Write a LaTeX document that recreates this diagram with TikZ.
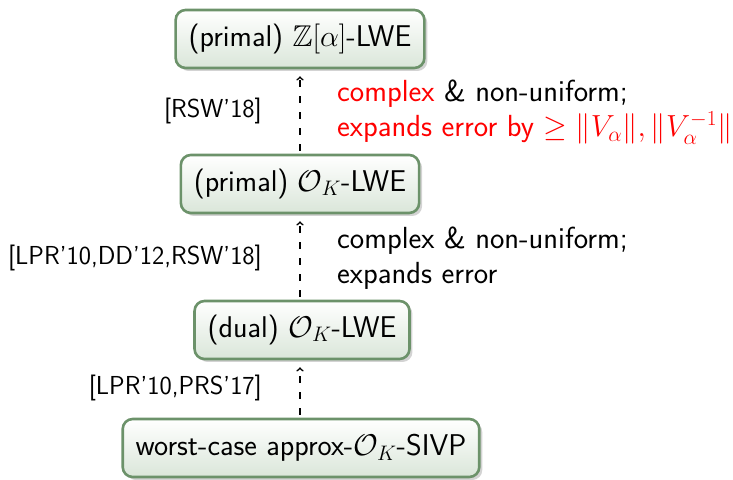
\RequirePackage{fix-cm}
\documentclass[tikz,border=0pt]{standalone}
\usepackage{amsmath,amssymb}
\usetikzlibrary{shadows}
\renewcommand{\familydefault}{\sfdefault}
\definecolor{boxline}{RGB}{108,146,106}
\definecolor{boxfill}{RGB}{218,230,217}
\tikzset{
  probbox/.style={draw=boxline, line width=2.6pt, rounded corners=10pt,
    top color=white, bottom color=boxfill,
    drop shadow={shadow xshift=3pt, shadow yshift=-3pt, opacity=0.35},
    minimum height=58pt, inner xsep=13pt,
    font=\fontsize{30}{34}\selectfont},
  reduction/.style={->, line width=1.6pt, dash pattern=on 7pt off 9pt,
    shorten >=7pt, shorten <=3pt},
  cite/.style={anchor=east, inner sep=0pt, font=\fontsize{26}{30}\selectfont},
  remark/.style={anchor=west, inner sep=0pt, align=left,
    font=\fontsize{30.5}{35}\selectfont}
}
\begin{document}
\begin{tikzpicture}[x=1pt,y=1pt]
\useasboundingbox (0,0) rectangle (733,479);
\node[probbox] (zlwe)  at (300,440) {(primal) $\mathbb{Z}[\alpha]$-LWE};
\node[probbox] (plwe)  at (300,295) {(primal) $\mathcal{O}_K$-LWE};
\node[probbox] (dlwe)  at (302,149) {(dual) $\mathcal{O}_K$-LWE};
\node[probbox] (sivp)  at (301,31)  {worst-case approx-$\mathcal{O}_K$-SIVP};

\draw[reduction] (plwe.north) -- (zlwe.south);
\draw[reduction] (dlwe.north -| plwe.south) -- (plwe.south);
\draw[reduction] (sivp.north -| plwe.south) -- (plwe.south |- dlwe.south);

\node[cite] (c1) at (262,368) {[RSW'18]};
\node[cite] (c2) at (262,221) {[LPR'10,DD'12,RSW'18]};
\node[cite] (c3) at (262,91)  {[LPR'10,PRS'17]};

\node[remark] (r1) at (337,367) {\textcolor{red}{complex} \& non-uniform;\\
  \textcolor{red}{expands error by $\geq \|V_\alpha\|, \|V_\alpha^{-1}\|$}};
\node[remark] (r2) at (337,221) {complex \& non-uniform;\\ expands error};
\end{tikzpicture}
\end{document}
